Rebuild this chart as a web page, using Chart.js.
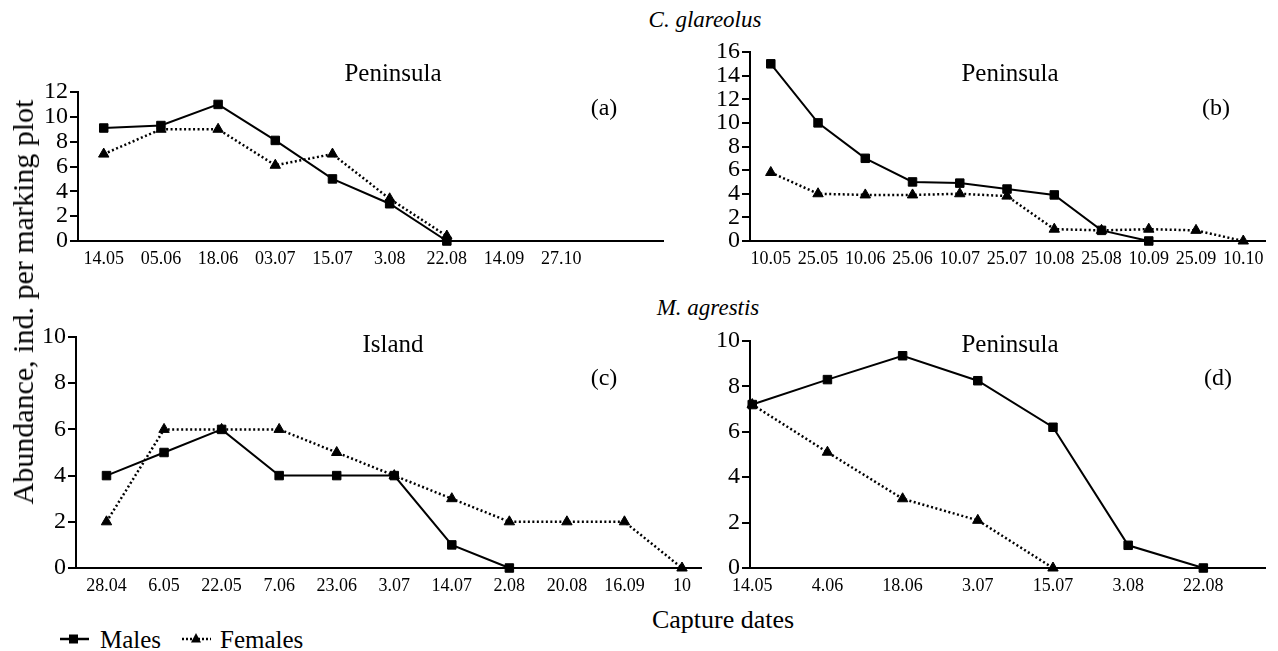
<!DOCTYPE html>
<html>
<head>
<meta charset="utf-8">
<script src="https://cdn.jsdelivr.net/npm/chart.js@4.4.0/dist/chart.umd.min.js"></script>
<style>
body { margin: 0; background: #fff; }
#fig { position: relative; width: 1278px; height: 651px; overflow: hidden; font-family: "Liberation Serif", "Times New Roman", serif; color: #000; }
canvas { position: absolute; }
.txt { position: absolute; white-space: nowrap; line-height: 1; transform: translate(-50%, -50%); }
.ltxt { position: absolute; white-space: nowrap; line-height: 1; transform: translateY(-50%); }
</style>
</head>
<body>
<div id="fig">
	<canvas id="chartA" width="670" height="196" style="left:0px;top:76px"></canvas>
	<canvas id="chartB" width="592" height="236" style="left:680px;top:36px"></canvas>
	<canvas id="chartC" width="708" height="279" style="left:0px;top:320px"></canvas>
	<canvas id="chartD" width="592" height="274" style="left:680px;top:325px"></canvas>

	<div class="txt" style="left:705px;top:19px;font-size:23px;font-style:italic">C. glareolus</div>
	<div class="txt" style="left:393px;top:72px;font-size:25px">Peninsula</div>
	<div class="txt" style="left:604px;top:107px;font-size:24px">(a)</div>
	<div class="txt" style="left:1010px;top:72px;font-size:25px">Peninsula</div>
	<div class="txt" style="left:1216px;top:107px;font-size:24px">(b)</div>

	<div class="txt" style="left:708px;top:307px;font-size:23px;font-style:italic">M. agrestis</div>
	<div class="txt" style="left:393px;top:343px;font-size:25px">Island</div>
	<div class="txt" style="left:604px;top:377px;font-size:24px">(c)</div>
	<div class="txt" style="left:1010px;top:343px;font-size:25px">Peninsula</div>
	<div class="txt" style="left:1218px;top:377px;font-size:24px">(d)</div>

	<div class="txt" style="left:23px;top:302px;font-size:30px;transform:translate(-50%,-50%) rotate(-90deg)">Abundance, ind. per marking plot</div>
	<div class="txt" style="left:723px;top:620px;font-size:26px">Capture dates</div>

	<!-- legend -->
	<svg style="position:absolute;left:0;top:626px" width="330" height="26">
		<line x1="60" y1="13" x2="89" y2="13" stroke="#000" stroke-width="2.5"/>
		<rect x="69" y="8.5" width="9" height="9" fill="#000"/>
		<line x1="182" y1="13" x2="211" y2="13" stroke="#000" stroke-width="2.5" stroke-dasharray="2 2"/>
		<polygon points="196,7 201,16.5 191,16.5" fill="#000"/>
	</svg>
	<div class="ltxt" style="left:100px;top:639px;font-size:25px">Males</div>
	<div class="ltxt" style="left:220px;top:639px;font-size:25px">Females</div>
</div>

<script>
// (a) C. glareolus, Peninsula
const datesA = ["14.05", "05.06", "18.06", "03.07", "15.07", "3.08", "22.08", "14.09", "27.10"];
const malesA = [9.1, 9.3, 11, 8.1, 5, 3, 0];
const femalesA = [7, 9, 9, 6.1, 7, 3.4, 0.4];

// (b) C. glareolus, Peninsula
const datesB = ["10.05", "25.05", "10.06", "25.06", "10.07", "25.07", "10.08", "25.08", "10.09", "25.09", "10.10"];
const malesB = [15, 10, 7, 5, 4.9, 4.4, 3.9, 0.9, 0];
const femalesB = [5.8, 4, 3.9, 3.9, 4, 3.8, 1, 0.9, 1, 0.9, 0];

// (c) M. agrestis, Island
const datesC = ["28.04", "6.05", "22.05", "7.06", "23.06", "3.07", "14.07", "2.08", "20.08", "16.09", "10"];
const malesC = [4, 5, 6, 4, 4, 4, 1, 0];
const femalesC = [2, 6, 6, 6, 5, 4, 3, 2, 2, 2, 0];

// (d) M. agrestis, Peninsula
const datesD = ["14.05", "4.06", "18.06", "3.07", "15.07", "3.08", "22.08"];
const malesD = [7.2, 8.3, 9.35, 8.25, 6.2, 1, 0];
const femalesD = [7.2, 5.1, 3.05, 2.1, 0];

const FONT = "'Liberation Serif', 'Times New Roman', serif";

function toXY(values) {
	return values.map((v, i) => ({ x: i, y: v }));
}

function makePanel(id, dates, males, females, yMax, xMin, xMax, yWidth, padTop) {
	new Chart(id, {
		type: "line",
		data: {
			datasets: [
				{
					label: "Males",
					data: toXY(males),
					borderColor: "#000",
					backgroundColor: "#000",
					borderWidth: 2,
					pointStyle: "rect",
					pointRadius: 6,
					pointBorderWidth: 1,
					tension: 0,
					clip: false,
				},
				{
					label: "Females",
					data: toXY(females),
					borderColor: "#000",
					backgroundColor: "#000",
					borderWidth: 2.5,
					borderDash: [2, 2.5],
					pointStyle: "triangle",
					pointRadius: 6,
					pointBorderWidth: 1,
					tension: 0,
					clip: false,
				},
			],
		},
		options: {
			responsive: false,
			animation: false,
			layout: { padding: { top: padTop, left: 0, right: 0, bottom: 0 } },
			plugins: {
				legend: { display: false },
				tooltip: { enabled: false },
			},
			scales: {
				x: {
					type: "linear",
					min: xMin,
					max: xMax,
					afterBuildTicks: (scale) => {
						scale.ticks = dates.map((d, i) => ({ value: i }));
					},
					afterFit: (scale) => {
						scale.height = 31;
					},
					grid: { display: false, drawTicks: false },
					border: { color: "#000", width: 2 },
					ticks: {
						color: "#000",
						font: { family: FONT, size: 18 },
						padding: 7,
						maxRotation: 0,
						autoSkip: false,
						callback: (v) => dates[v],
					},
				},
				y: {
					min: 0,
					max: yMax,
					afterFit: (scale) => {
						scale.width = yWidth;
					},
					grid: { drawOnChartArea: false, color: "#000", lineWidth: 2, tickLength: 8 },
					border: { color: "#000", width: 2 },
					ticks: {
						stepSize: 2,
						autoSkip: false,
						color: "#000",
						font: { family: FONT, size: 24, lineHeight: 1 },
						padding: 2,
					},
				},
			},
		},
	});
}

makePanel("chartA", datesA, malesA, femalesA, 12, -0.45, 9.78, 78, 16);
makePanel("chartB", datesB, malesB, femalesB, 16, -0.44, 10.46, 70, 16);
makePanel("chartC", datesC, malesC, femalesC, 10, -0.53, 10.33, 76, 17);
makePanel("chartD", datesD, malesD, femalesD, 10, -0.03, 6.82, 70, 16);
</script>
</body>
</html>
